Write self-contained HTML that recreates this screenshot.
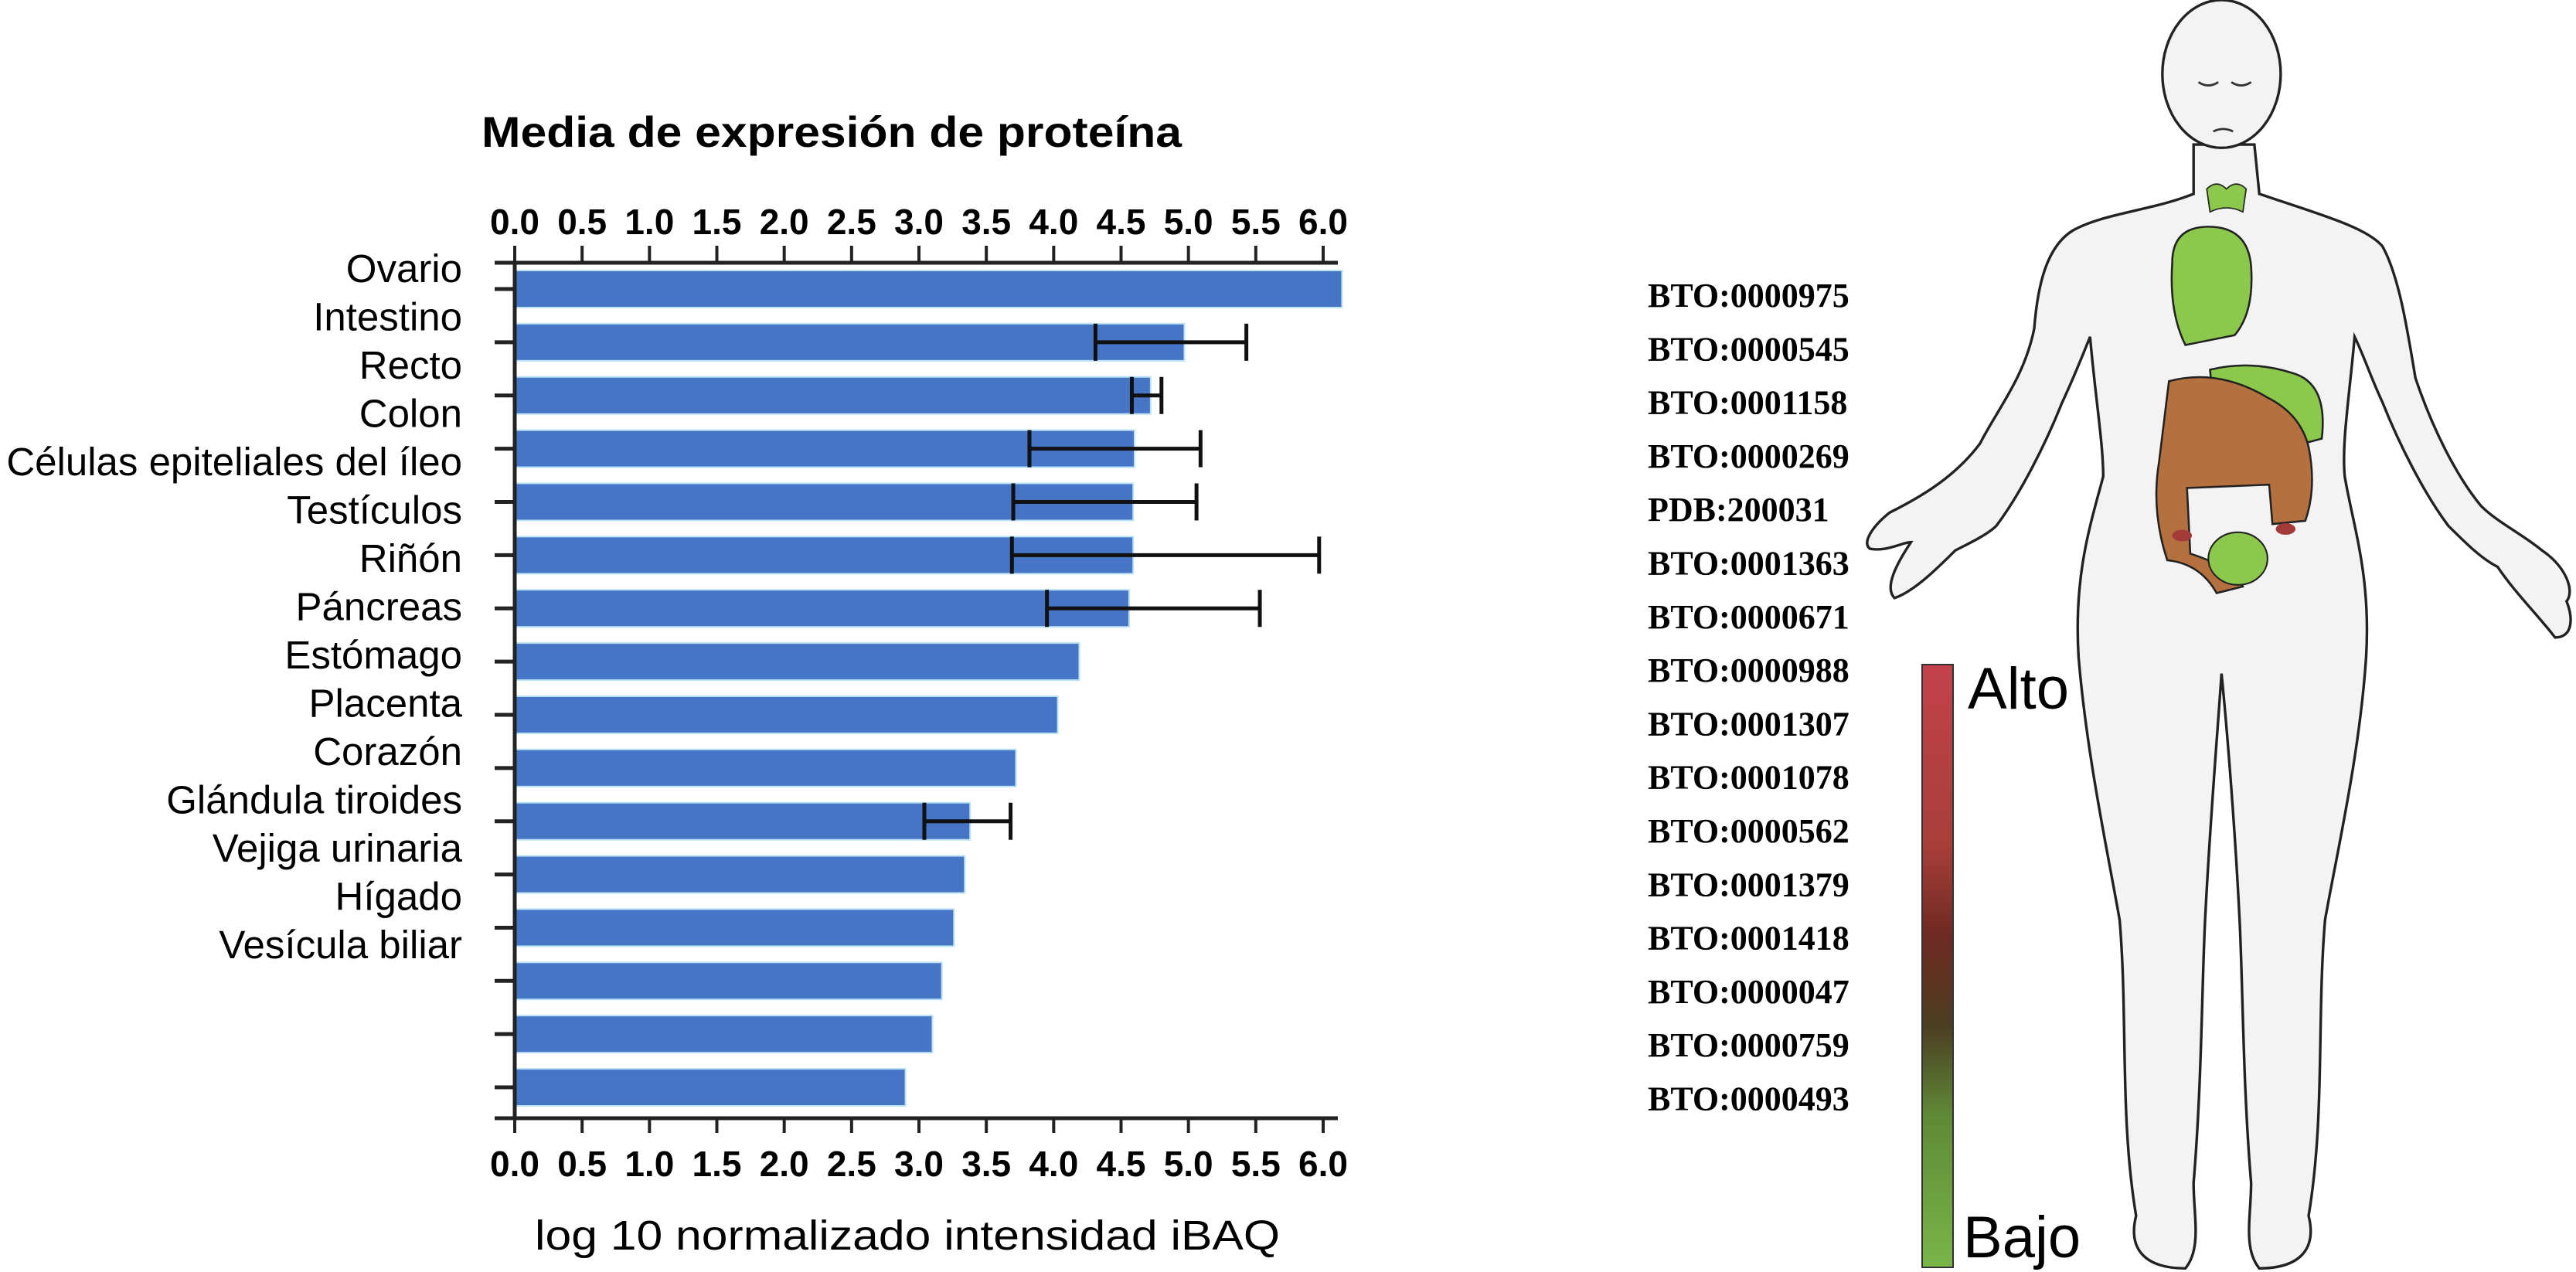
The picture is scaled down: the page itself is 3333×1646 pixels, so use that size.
<!DOCTYPE html>
<html><head><meta charset="utf-8"><style>
html,body{margin:0;padding:0;background:#fff;}
svg{display:block;}
</style></head><body>
<svg id="root" width="3333" height="1646" viewBox="0 0 3333 1646" xmlns="http://www.w3.org/2000/svg">
<rect width="3333" height="1646" fill="#fff"/>
<text x="1076" y="190" text-anchor="middle" font-family="Liberation Sans, sans-serif" font-weight="bold" font-size="56" textLength="906" lengthAdjust="spacingAndGlyphs">Media de expresión de proteína</text>
<g id="chart"></g>
<text x="1174" y="1617" text-anchor="middle" font-family="Liberation Sans, sans-serif" font-size="54" textLength="964" lengthAdjust="spacingAndGlyphs">log 10 normalizado intensidad iBAQ</text>

<g id="ids"></g>

<g transform="scale(2.126)">
  <path fill="#f3f3f3" stroke="#222" stroke-width="1.6" d="M1335,88 L1335,118 C1310,128 1280,130 1262,140 C1245,150 1240,175 1238,200 C1232,230 1215,250 1205,270 C1190,290 1170,302 1150,312 C1140,320 1133,330 1138,334 C1148,336 1158,330 1163,330 C1153,345 1147,358 1153,364 C1165,360 1180,345 1190,335 C1200,330 1210,325 1215,320 C1230,300 1245,270 1255,245 C1262,230 1268,215 1272,205 C1275,240 1280,270 1280,290 C1272,320 1262,350 1265,400 C1270,460 1283,520 1290,560 C1295,620 1290,680 1300,740 C1295,760 1305,772 1330,772 C1340,760 1335,740 1335,720 C1340,660 1340,600 1342,560 C1345,500 1350,440 1352,410 C1355,440 1360,500 1363,560 C1365,600 1365,660 1370,720 C1370,740 1365,760 1375,772 C1400,772 1410,760 1405,740 C1415,680 1410,620 1415,560 C1422,520 1436,460 1440,400 C1443,350 1432,320 1427,290 C1425,270 1430,240 1433,205 C1438,215 1443,230 1450,245 C1460,270 1475,300 1490,320 C1500,330 1510,340 1520,345 C1530,360 1545,375 1555,388 C1566,388 1566,376 1562,366 C1567,360 1562,345 1547,335 C1535,325 1520,318 1510,308 C1495,290 1480,260 1470,230 C1465,200 1460,168 1450,150 C1440,138 1410,130 1375,118 L1372,88 Z"/>
  <ellipse cx="1352" cy="45" rx="36" ry="45" fill="#f3f3f3" stroke="#222" stroke-width="1.6"/>
  <path d="M1338,50 q6,4 12,0 M1358,50 q6,4 12,0 M1347,80 q6,-3 12,0" stroke="#333" stroke-width="1.3" fill="none"/>
  <path d="M1343,115 q6,-6 12,0 q6,-6 12,0 l-2,14 q-10,-5 -20,0 z" fill="#8cc84b" stroke="#222" stroke-width="0.8"/>
  <path d="M1322,160 q0,-22 22,-22 q24,0 26,24 q2,28 -10,42 l-30,6 q-10,-20 -8,-50 z" fill="#8cc84b" stroke="#222" stroke-width="1.2"/>
  <path d="M1345,225 q25,-6 50,2 q22,6 18,40 l-30,8 q-35,-10 -38,-50 z" fill="#8cc84b" stroke="#222" stroke-width="1.2"/>
  <path d="M1320,232 q30,-8 60,10 q20,10 25,30 q5,25 -2,45 l-20,2 l-2,-24 l-50,2 l2,40 q25,8 32,20 l-16,4 q-10,-18 -30,-20 q-10,-30 -5,-60 z" fill="#b5703f" stroke="#222" stroke-width="1.2"/>
  <ellipse cx="1362" cy="340" rx="18" ry="16" fill="#8cc84b" stroke="#222" stroke-width="1"/>
  <ellipse cx="1328" cy="326" rx="6" ry="3.5" fill="#a33a3a"/>
  <ellipse cx="1391" cy="322" rx="6" ry="3.5" fill="#a33a3a"/>
</g>

<defs>
<linearGradient id="cg" x1="0" y1="0" x2="0" y2="1">
<stop offset="0" stop-color="#c2424b"/><stop offset="0.3" stop-color="#a83e3a"/><stop offset="0.45" stop-color="#6e2a22"/><stop offset="0.6" stop-color="#4c3e22"/><stop offset="0.75" stop-color="#5f8a36"/><stop offset="1" stop-color="#7ab548"/>
</linearGradient>
</defs>
<rect x="2487" y="860" width="40" height="780" fill="url(#cg)" stroke="#333" stroke-width="2"/>
<text x="2546" y="917" font-family="Liberation Sans, sans-serif" font-size="76">Alto</text>
<text x="2540" y="1627" font-family="Liberation Sans, sans-serif" font-size="76">Bajo</text>
</svg>
<script>
const categories=["Ovario","Intestino","Recto","Colon","Células epiteliales del íleo","Testículos","Riñón","Páncreas","Estómago","Placenta","Corazón","Glándula tiroides","Vejiga urinaria","Hígado","Vesícula biliar"];
const values=[6.14,4.97,4.72,4.60,4.59,4.59,4.56,4.19,4.03,3.72,3.38,3.34,3.26,3.17,3.10,2.90];
const errLow=[null,4.31,4.58,3.82,3.70,3.69,3.95,null,null,null,3.04,null,null,null,null,null];
const errHigh=[null,5.43,4.80,5.09,5.06,5.97,5.53,null,null,null,3.68,null,null,null,null,null];
const tickValues=[0,0.5,1,1.5,2,2.5,3,3.5,4,4.5,5,5.5,6];
const tickLabels=["0.0","0.5","1.0","1.5","2.0","2.5","3.0","3.5","4.0","4.5","5.0","5.5","6.0"];
const ids=["BTO:0000975","BTO:0000545","BTO:0001158","BTO:0000269","PDB:200031","BTO:0001363","BTO:0000671","BTO:0000988","BTO:0001307","BTO:0001078","BTO:0000562","BTO:0001379","BTO:0001418","BTO:0000047","BTO:0000759","BTO:0000493"];

const NS="http://www.w3.org/2000/svg";
const X0=666,UNIT=(1712-666)/6;
const x=v=>X0+v*UNIT;
const yc=i=>374+i*68.87;
const BH=48;
const g=document.getElementById('chart');
function mk(tag,at,parent){const e=document.createElementNS(NS,tag);for(const k in at)e.setAttribute(k,at[k]);(parent||g).appendChild(e);return e;}

values.forEach((v,i)=>{
  const r=mk('rect',{x:X0,y:yc(i)-BH/2,width:x(v)-X0,height:BH,fill:'#4775c6',stroke:'#b9e2f5','stroke-width':2});
  
  
  if(errLow[i]!=null){
    const e=mk('path',{d:`M${x(errLow[i])},${yc(i)} H${x(errHigh[i])} M${x(errLow[i])},${yc(i)-BH/2} V${yc(i)+BH/2} M${x(errHigh[i])},${yc(i)-BH/2} V${yc(i)+BH/2}`,stroke:'#111','stroke-width':5,fill:'none'});
    
    
  }
  const t=mk('line',{x1:640,x2:X0,y1:yc(i),y2:yc(i),stroke:'#222','stroke-width':5});
  
  
});
categories.forEach((c,i)=>{
  const t=mk('text',{x:598,y:347+i*62.5+18,'text-anchor':'end','font-family':'Liberation Sans, sans-serif','font-size':51});
  t.textContent=c;
  
  
});
const ax=mk('path',{d:`M${X0},340 V1447 M640,340 H1731 M640,1447 H1731`,stroke:'#222','stroke-width':5,fill:'none'});


tickValues.forEach((v,i)=>{
  const tk=mk('path',{d:`M${x(v)},318 V340 M${x(v)},1447 V1466`,stroke:'#222','stroke-width':4});
  
  
  const a=mk('text',{x:x(v),y:303,'text-anchor':'middle','font-family':'Liberation Sans, sans-serif','font-weight':'bold','font-size':46});
  a.textContent=tickLabels[i];
  
  
  const b=mk('text',{x:x(v),y:1522,'text-anchor':'middle','font-family':'Liberation Sans, sans-serif','font-weight':'bold','font-size':46});
  b.textContent=tickLabels[i];
  
  
});
const ig=document.getElementById('ids');
ids.forEach((s,i)=>{
  const t=mk('text',{x:2132,y:382+i*69.3+15,'font-family':'Liberation Serif, serif','font-weight':'bold','font-size':44},ig);
  t.textContent=s;
  
  
});
</script>
</body></html>
